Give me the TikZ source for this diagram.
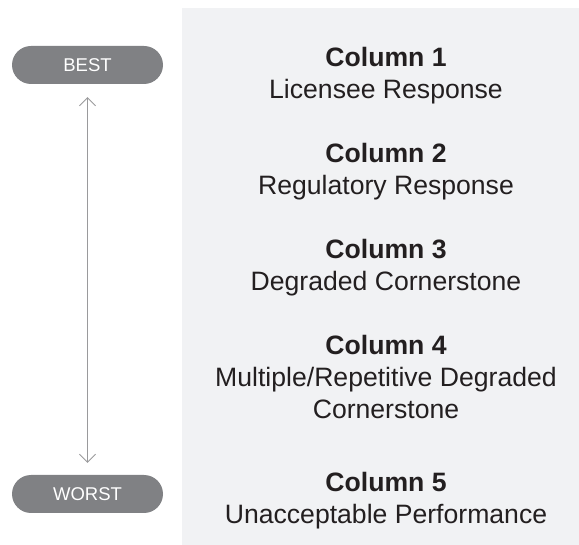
\documentclass[tikz,border=0pt]{standalone}
\usepackage{fontspec}
\setmainfont{Liberation Sans}
\usetikzlibrary{arrows.meta}
\definecolor{pillgray}{HTML}{808184}
\definecolor{panelgray}{HTML}{F1F2F4}
\definecolor{inkdark}{HTML}{231F20}
\definecolor{arrowgray}{HTML}{9A9A9C}

\begin{document}
\begin{tikzpicture}[x=1pt,y=-1pt,
  pill/.style={fill=pillgray,text=white,rounded corners=19pt,minimum width=151pt,
    minimum height=38pt,inner sep=0pt,font=\fontsize{18.5}{20}\selectfont},
  colnote/.style={anchor=north,align=center,inner sep=0pt,text=inkdark,
    font=\fontsize{26.6}{32}\selectfont}]
  \useasboundingbox (0,0) rectangle (579,545);
  \fill[panelgray] (182,8) rectangle (579,545);
  \node[pill] (best) at (87.5,65) {BEST};
  \node[pill] (worst) at (87.5,494) {WORST};
  \draw[{Straight Barb[length=8pt,width=16pt]}-{Straight Barb[length=8pt,width=16pt]},
    arrowgray,line width=0.8pt,shorten <=13pt,shorten >=12pt] (best) -- (worst);
  \node[colnote] (col1) at (386,47) {\textbf{Column 1}\\Licensee Response};
  \node[colnote] (col2) at (386,143) {\textbf{Column 2}\\Regulatory Response};
  \node[colnote] (col3) at (386,239) {\textbf{Column 3}\\Degraded Cornerstone};
  \node[colnote] (col4) at (386,335) {\textbf{Column 4}\\Multiple/Repetitive Degraded\\Cornerstone};
  \node[colnote] (col5) at (386,472) {\textbf{Column 5}\\Unacceptable Performance};
\end{tikzpicture}
\end{document}
